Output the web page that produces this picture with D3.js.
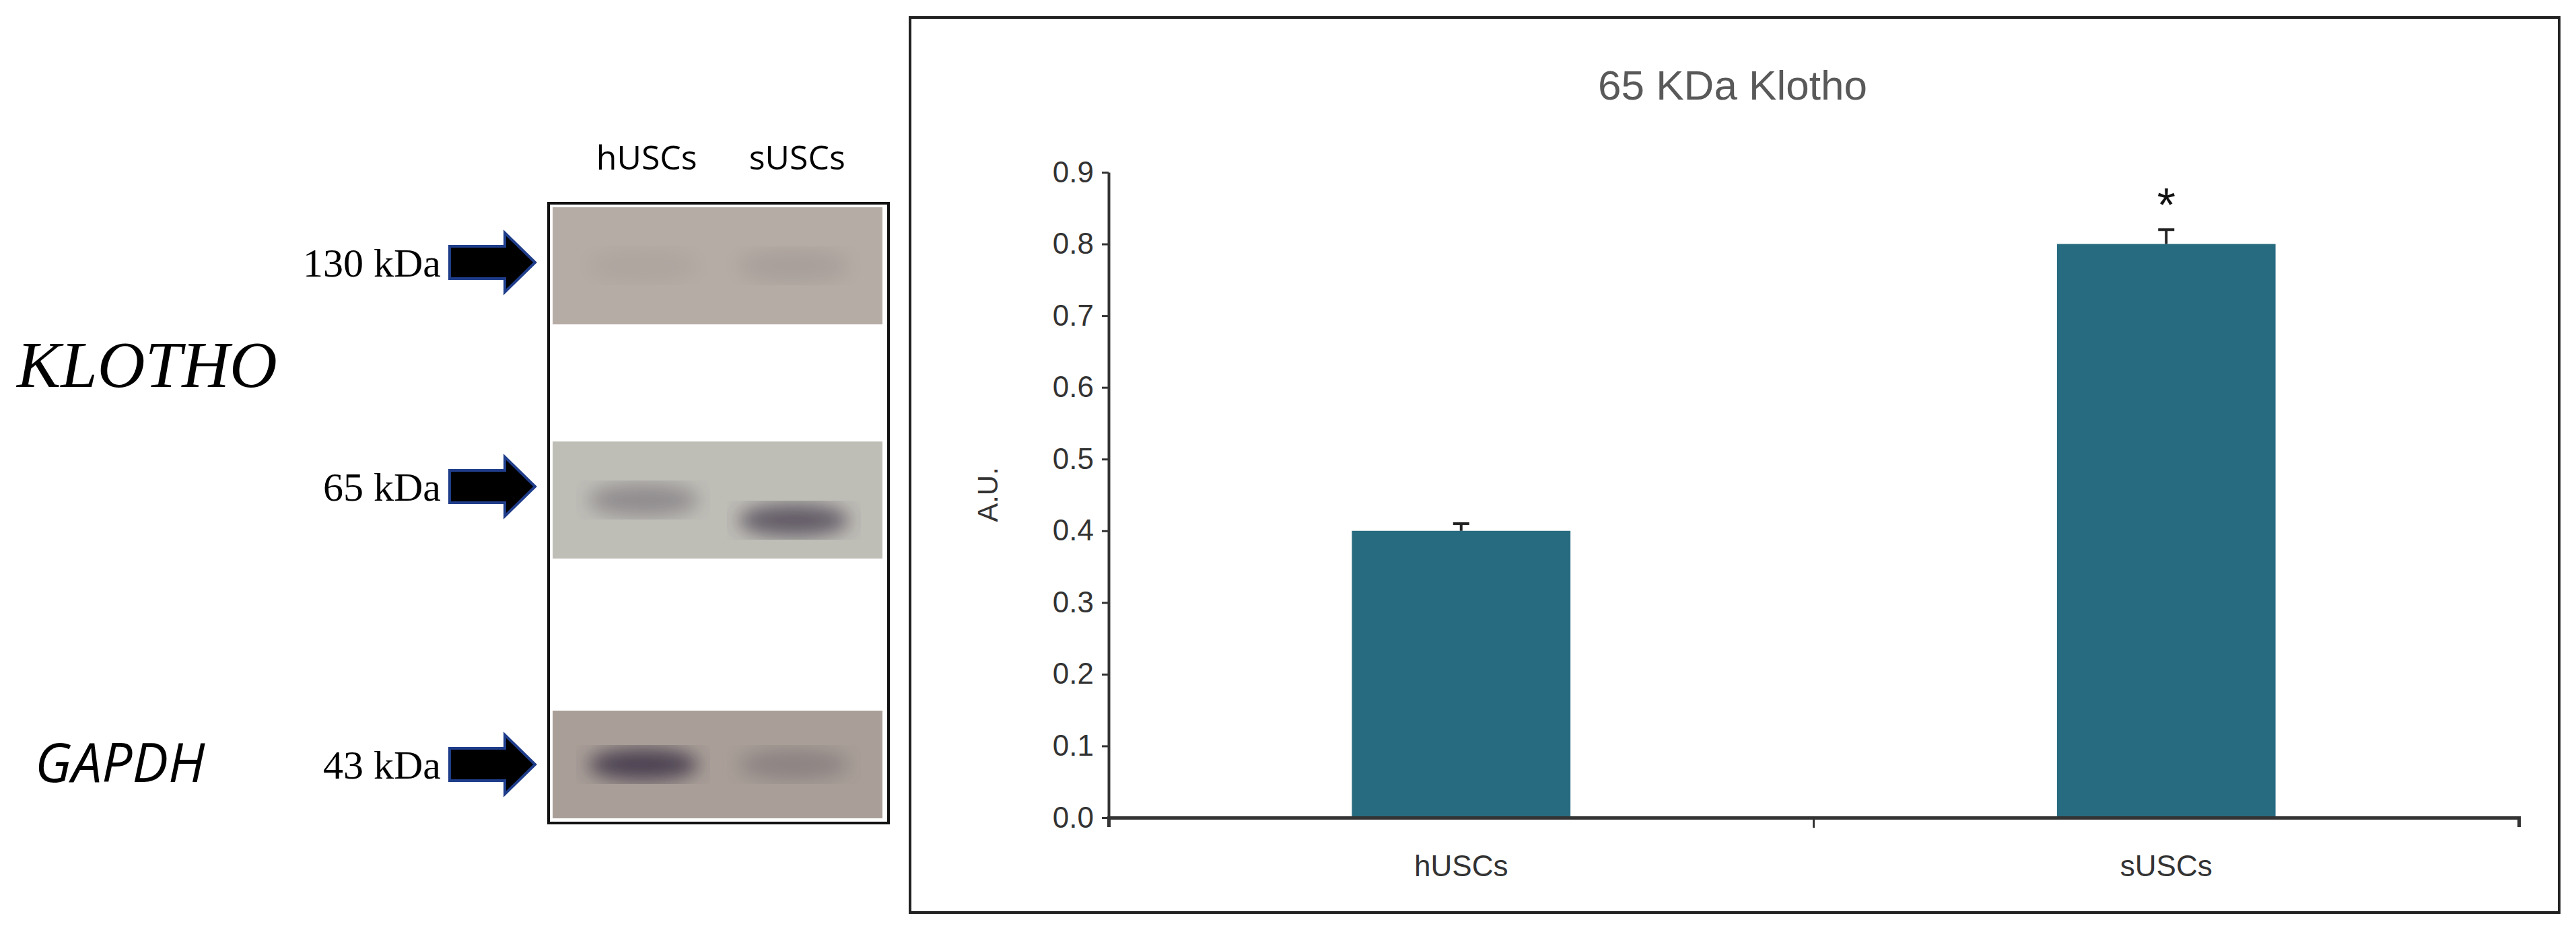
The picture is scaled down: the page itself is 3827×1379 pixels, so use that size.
<!DOCTYPE html>
<html><head><meta charset="utf-8">
<script src="https://cdn.jsdelivr.net/npm/d3@7"></script>
<style>body{margin:0;background:#fff}</style>
</head><body>
<svg id="fig" width="3827" height="1379"></svg>
<script>
// chart data
const groups = ["hUSCs", "sUSCs"]
const values = [0.40, 0.80]
const errors = [0.01, 0.02]
const signif = ["", "*"]
const yTicks = [0, 0.1, 0.2, 0.3, 0.4, 0.5, 0.6, 0.7, 0.8, 0.9]

// blot panel data
const lanes = ["hUSCs", "sUSCs"]
const blotRows = ["130 kDa", "65 kDa", "43 kDa"]
const blotBg = ["#b5aca5", "#bebdb6", "#a99f98"]
const laneIntensity = [[0.05, 0.1], [0.35, 0.7], [0.85, 0.25]]

const svg = d3.select("#fig")

// ---- left: western blot
const blot = svg.append("g")
const rowY = d3.scaleOrdinal().domain(blotRows).range([[308, 482], [656, 830], [1056, 1216]])
const laneX = d3.scaleBand().domain(lanes).range([835, 1300]).padding(0.08)

blot.append("rect").attr("x", 815).attr("y", 302).attr("width", 505).attr("height", 921)
  .attr("fill", "none").attr("stroke", "#111").attr("stroke-width", 4)

const defs = svg.append("defs")
defs.append("filter").attr("id", "blur").append("feGaussianBlur").attr("stdDeviation", 14)

blotRows.forEach((r, i) => {
  const [y0, y1] = rowY(r)
  blot.append("rect").attr("x", 821).attr("y", y0).attr("width", 490).attr("height", y1 - y0)
    .attr("fill", blotBg[i])
  lanes.forEach((l, j) => {
    blot.append("ellipse")
      .attr("cx", laneX(l) + laneX.bandwidth() / 2)
      .attr("cy", (y0 + y1) / 2 + (i == 1 && j == 1 ? 30 : 0))
      .attr("rx", laneX.bandwidth() * 0.4).attr("ry", 24)
      .attr("fill", "#3a3145").attr("opacity", laneIntensity[i][j])
      .attr("filter", "url(#blur)")
  })
  const cy = (y0 + y1) / 2 + (i == 0 ? -5 : i == 1 ? -20 : 0)
  blot.append("text").attr("x", 655).attr("y", cy).attr("dy", "0.35em")
    .attr("text-anchor", "end").attr("font-family", "Liberation Serif").attr("font-size", 60)
    .text(r)
  blot.append("path")
    .attr("d", `M668,${cy - 24}H750V${cy - 44}L795,${cy}L750,${cy + 44}V${cy + 24}H668Z`)
    .attr("fill", "#000").attr("stroke", "#1f3d8a").attr("stroke-width", 4)
})

lanes.forEach(l => {
  blot.append("text").attr("x", laneX(l) + laneX.bandwidth() / 2 + 5).attr("y", 252)
    .attr("text-anchor", "middle").attr("font-family", "Open Sans").attr("font-size", 50)
    .text(l)
})
blot.append("text").attr("x", 25).attr("y", 575).attr("font-family", "Liberation Serif")
  .attr("font-style", "italic").attr("font-size", 98).text("KLOTHO")
blot.append("text").attr("x", 52).attr("y", 1162).attr("font-family", "Open Sans")
  .attr("font-style", "italic").attr("font-size", 80).text("GAPDH")

// ---- right: bar chart
svg.append("rect").attr("x", 1352).attr("y", 26).attr("width", 2450).attr("height", 1330)
  .attr("fill", "none").attr("stroke", "#222").attr("stroke-width", 4)

const y = d3.scaleLinear().domain([0, 0.9]).range([1215, 256])
const x = d3.scaleBand().domain(groups).range([1647, 3742])
const barW = x.bandwidth() * 0.31
const font = "'Liberation Sans Narrow', 'Liberation Sans', Arial"

svg.append("text").attr("x", 2574).attr("y", 148).attr("text-anchor", "middle")
  .attr("font-family", font).attr("font-size", 62).attr("fill", "#595959").text("65 KDa Klotho")

const yAxis = svg.append("g").attr("transform", "translate(1647,0)")
  .call(d3.axisLeft(y).tickValues(yTicks).tickFormat(d3.format(".1f")).tickSize(10).tickSizeOuter(0))
yAxis.select(".domain").attr("stroke", "#333").attr("stroke-width", 4)
yAxis.selectAll(".tick line").attr("stroke", "#333").attr("stroke-width", 3)
yAxis.selectAll("text").attr("font-family", font).attr("font-size", 44).attr("fill", "#333").attr("x", -22)

svg.append("text").attr("transform", "translate(1482,735) rotate(-90)").attr("text-anchor", "middle")
  .attr("font-family", "Liberation Sans").attr("font-size", 42).attr("fill", "#333").text("A.U.")

const bars = svg.append("g")
bars.selectAll("rect").data(groups).enter().append("rect")
  .attr("x", d => x(d) + x.bandwidth() / 2 - barW / 2)
  .attr("y", (d, i) => y(values[i]))
  .attr("width", barW)
  .attr("height", (d, i) => y(0) - y(values[i]))
  .attr("fill", "#276b80")

// error bars (upper only)
groups.forEach((g, i) => {
  const cx = x(g) + x.bandwidth() / 2
  svg.append("line").attr("x1", cx).attr("x2", cx).attr("y1", y(values[i])).attr("y2", y(values[i] + errors[i]))
    .attr("stroke", "#222").attr("stroke-width", 4)
  svg.append("line").attr("x1", cx - 12).attr("x2", cx + 12).attr("y1", y(values[i] + errors[i])).attr("y2", y(values[i] + errors[i]))
    .attr("stroke", "#222").attr("stroke-width", 4)
  svg.append("text").attr("x", cx).attr("y", y(values[i] + errors[i]) - 12).attr("text-anchor", "middle")
    .attr("font-family", "Liberation Sans").attr("font-size", 70).attr("fill", "#111").text(signif[i])
})

const xAxis = svg.append("g").attr("transform", "translate(0,1215)")
  .call(d3.axisBottom(x).tickSize(0).tickSizeOuter(14))
xAxis.select(".domain").attr("stroke", "#333").attr("stroke-width", 5)
xAxis.selectAll("text").attr("font-family", font).attr("font-size", 44).attr("fill", "#333").attr("dy", "1.9em")
// category separator tick
svg.append("line").attr("x1", x(groups[1])).attr("x2", x(groups[1])).attr("y1", 1215).attr("y2", 1230)
  .attr("stroke", "#333").attr("stroke-width", 3)
</script>
</body></html>
